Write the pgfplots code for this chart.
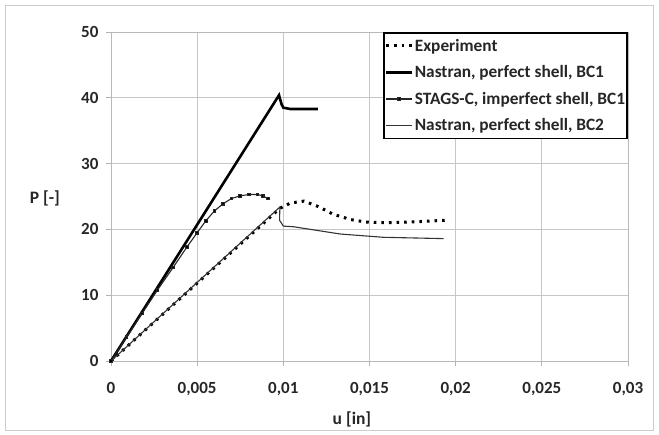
\documentclass[border=0pt]{standalone}
\usepackage{fontspec}
\setmainfont{Carlito}
\usepackage{pgfplots}
\pgfplotsset{compat=1.18}

\begin{document}
\begin{tikzpicture}
\begin{axis}[
  name=ax,
  scale only axis,
  width=517bp, height=329bp,
  xmin=0, xmax=0.03,
  ymin=0, ymax=50,
  xtick={0,0.005,0.01,0.015,0.02,0.025,0.03},
  xticklabels={0,{0,005},{0,01},{0,015},{0,02},{0,025},{0,03}},
  ytick={0,10,20,30,40,50},
  yticklabels={0,10,20,30,40,50},
  scaled ticks=false,
  tick align=outside,
  tick pos=left,
  major tick length=5bp,
  tick style={gray!60, line width=0.8bp},
  grid=major,
  grid style={gray!45, line width=0.9bp},
  axis line style={gray!55, line width=0.9bp},
  ticklabel style={font=\fontsize{17bp}{19bp}\selectfont\bfseries, text=black!85},
  xticklabel style={yshift=-13bp},
  yticklabel style={xshift=-4bp},
  clip=false,
  legend cell align=left,
  legend image code/.code={\draw[mark repeat=2, mark phase=2, #1]
    plot coordinates {(0bp,0bp) (13bp,0bp) (26bp,0bp)};},
  legend style={at={(rel axis cs:1,1)}, anchor=north east,
    draw=black, line width=1.8bp, fill=white,
    font=\fontsize{17.3bp}{19bp}\selectfont\bfseries, text=black!85,
    inner xsep=1bp, inner ysep=5bp,
    row sep=11bp,
    nodes={inner sep=1bp}},
]
% Experiment
\addplot[black, line width=3bp, dash pattern=on 2.6bp off 5bp] coordinates {
  (0,0) (0.0098,23.2) (0.0104,24.0) (0.0112,24.3) (0.0120,23.5)
  (0.0129,22.3) (0.0139,21.5) (0.0148,21.1) (0.0160,21.0) (0.0170,21.1)
  (0.0180,21.2) (0.0195,21.4)
};
\addlegendentry{Experiment}
% Nastran BC1
\addplot[black, line width=2.6bp] coordinates {
  (0,0) (0.00975,40.4) (0.0099,39.0) (0.0100,38.5) (0.0104,38.3) (0.0120,38.3)
};
\addlegendentry{Nastran, perfect shell, BC1}
% STAGS-C
\addplot[black!85, line width=1.1bp, mark=square*, mark size=1.3bp,
  mark options={solid, fill=black}] coordinates {
  (0,0) (0.0009,3.6) (0.0018,7.2) (0.0027,10.8) (0.0036,14.2) (0.0044,17.3)
  (0.0050,19.5) (0.0055,21.3) (0.0060,22.8) (0.0065,23.9) (0.0070,24.7)
  (0.0075,25.1) (0.0080,25.3) (0.0085,25.3) (0.0088,25.1) (0.0091,24.7)
};
\addlegendentry{STAGS-C, imperfect shell, BC1}
% Nastran BC2
\addplot[black!80, line width=1.1bp] coordinates {
  (0,0) (0.0098,23.4) (0.00978,21.4) (0.0100,20.5) (0.0106,20.4)
  (0.0133,19.3) (0.0158,18.8) (0.0193,18.6)
};
\addlegendentry{Nastran, perfect shell, BC2}
\node[font=\fontsize{17.5bp}{19bp}\selectfont\bfseries, text=black!85] at (rel axis cs:0.466,-0.179) {u [in]};
\node[font=\fontsize{17.5bp}{19bp}\selectfont\bfseries, text=black!85] at (rel axis cs:-0.128,0.495) {P [-]};
\end{axis}
\draw[gray!40, line width=1bp] ([shift={(-105bp,-69bp)}]ax.south west) rectangle ([shift={(25bp,26bp)}]ax.north east);
\useasboundingbox ([shift={(-111bp,-74bp)}]ax.south west) rectangle ([shift={(31bp,32bp)}]ax.north east);
\end{tikzpicture}
\end{document}
